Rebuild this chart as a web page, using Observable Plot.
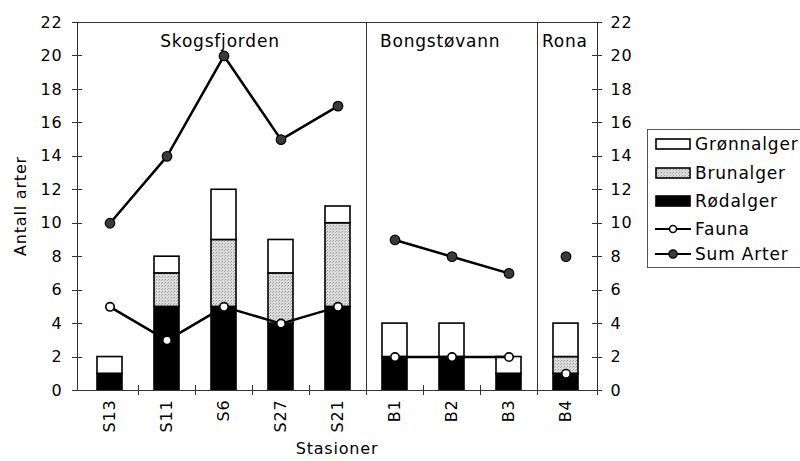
<!DOCTYPE html>
<html><head><meta charset="utf-8">
<script src="https://cdn.jsdelivr.net/npm/d3@7"></script>
<script src="https://cdn.jsdelivr.net/npm/@observablehq/plot@0.6"></script>
<style>
body{margin:0;background:#fff;font-family:"DejaVu Sans",sans-serif;}
#wrap{position:relative;width:800px;height:461px;overflow:hidden;}
#wrap svg text{letter-spacing:0.8px;}
#legend{position:absolute;left:647px;top:129px;width:170px;height:139px;border:1px solid #555;box-sizing:border-box;font-size:17px;letter-spacing:0.8px;color:#000;}
.row{position:absolute;left:0;height:20px;display:flex;align-items:center;}
.row svg{display:block;margin-left:7px;margin-right:4px;}
</style></head><body>
<svg width="0" height="0" style="position:absolute">
  <defs>
    <pattern id="stipple" width="3" height="3" patternUnits="userSpaceOnUse">
      <rect width="3" height="3" fill="#dcdcdc"/>
      <rect x="0" y="0" width="1" height="1" fill="#9a9a9a"/>
      <rect x="2" y="1" width="1" height="1" fill="#b0b0b0"/>
    </pattern>
  </defs>
</svg>
<div id="wrap"></div>
<script>
// ---- data ----
const stations   = ["S13","S11","S6","S27","S21","B1","B2","B3","B4"];
const areaOf     = ["Skogsfjorden","Skogsfjorden","Skogsfjorden","Skogsfjorden","Skogsfjorden","Bongstøvann","Bongstøvann","Bongstøvann","Rona"];
const rodalger   = [1,5,5,4,5,2,2,1,1];
const brunalger  = [0,2,4,3,5,0,0,0,1];
const gronnalger = [1,1,3,2,1,2,2,1,2];
const fauna      = [5,3,5,4,5,2,2,2,1];
const sumArter   = [10,14,20,15,17,9,8,7,8];
const yTicks     = [0,2,4,6,8,10,12,14,16,18,20,22];
const categories = ["Rødalger","Brunalger","Grønnalger"];
const catFills   = ["#000000","url(#stipple)","#ffffff"];
const areaNames  = ["Skogsfjorden","Bongstøvann","Rona"];
const areaLabelAt= ["S6","B1","B4"];
const separatorsBefore = ["B1","B4"];
const legendLabels = ["Grønnalger","Brunalger","Rødalger","Fauna","Sum Arter"];

// ---- tables ----
const seriesByCat = {"Rødalger": rodalger, "Brunalger": brunalger, "Grønnalger": gronnalger};
const barRows = [];
stations.forEach((s, i) => categories.forEach(c => {
  const v = seriesByCat[c][i];
  if (v > 0) barRows.push({station: s, category: c, value: v});
}));
const pointRows = stations.map((s, i) => ({station: s, area: areaOf[i], fauna: fauna[i], sum: sumArter[i]}));
const areaRows = areaNames.map((n, i) => ({name: n, station: areaLabelAt[i]}));

function decorations(index, scales, values, dims) {
  const x = scales.x, y = scales.y;
  const left = dims.marginLeft, right = dims.width - dims.marginRight;
  const y0 = y(0), yT = y(22);
  const step = x(stations[1]) - x(stations[0]);
  const bw = x.bandwidth();
  const gap = (step - bw) / 2;
  const bound = s => x(s) - gap;
  const g = d3.create("svg:g");
  const lines = g.append("g").attr("stroke", "#333").attr("stroke-width", 1).attr("fill", "none");
  const c = v => Math.round(v) + 0.5;
  lines.append("rect").attr("x", c(left)).attr("y", c(yT)).attr("width", Math.round(right - left)).attr("height", Math.round(y0 - yT));
  separatorsBefore.forEach(s => {
    lines.append("line").attr("x1", c(bound(s))).attr("x2", c(bound(s))).attr("y1", yT).attr("y2", y0 + 5);
  });
  stations.slice(1).forEach(s => {
    lines.append("line").attr("x1", c(bound(s))).attr("x2", c(bound(s))).attr("y1", y0 - 5).attr("y2", y0 + 5);
  });
  lines.append("line").attr("x1", c(right)).attr("x2", c(right)).attr("y1", y0 - 5).attr("y2", y0 + 5);
  yTicks.forEach(t => {
    lines.append("line").attr("x1", left - 5).attr("x2", left + 5).attr("y1", c(y(t))).attr("y2", c(y(t)));
    lines.append("line").attr("x1", right - 5).attr("x2", right + 5).attr("y1", c(y(t))).attr("y2", c(y(t)));
  });
  g.append("text").attr("transform", `translate(20,${(yT + y0) / 2}) rotate(-90)`)
    .attr("text-anchor", "middle").attr("dominant-baseline", "central").attr("fill", "#000")
    .text("Antall arter");
  g.append("text").attr("x", (left + right) / 2).attr("y", dims.height - 7)
    .attr("text-anchor", "middle").attr("fill", "#000").text("Stasioner");
  return g.node();
}

const plot = Plot.plot({
  width: 800, height: 461,
  marginLeft: 77, marginRight: 203, marginTop: 22, marginBottom: 71,
  style: {fontFamily: "DejaVu Sans", fontSize: "16px", color: "#000", background: "transparent", overflow: "visible"},
  x: {domain: stations, paddingInner: 0.57, paddingOuter: 0.285, tickSize: 0, tickPadding: 9, tickRotate: -90, label: null},
  y: {domain: [0, 22], ticks: yTicks, tickSize: 0, tickPadding: 15, label: null},
  color: {domain: categories, range: catFills},
  marks: [
    Plot.barY(barRows, {x: "station", y: "value", fill: "category", stroke: "#000", strokeWidth: 1.6}),
    decorations,
    Plot.line(pointRows, {x: "station", y: "sum", z: "area", stroke: "#000", strokeWidth: 2.5}),
    Plot.line(pointRows, {x: "station", y: "fauna", z: "area", stroke: "#000", strokeWidth: 2.5}),
    Plot.dot(pointRows, {x: "station", y: "sum", r: 4.8, fill: "#3a3a3a", stroke: "#000", strokeWidth: 1.2}),
    Plot.dot(pointRows, {x: "station", y: "fauna", r: 4.2, fill: "#fff", stroke: "#000", strokeWidth: 1.6}),
    Plot.text(yTicks, {y: d => d, text: d => String(d), frameAnchor: "right", textAnchor: "start", dx: 13, fill: "#000"}),
    Plot.text(areaRows.slice(0, 1), {x: "station", text: "name", frameAnchor: "top", dy: 12, dx: -4, fontSize: 17, fill: "#000"}),
    Plot.text(areaRows.slice(1, 2), {x: "station", text: "name", frameAnchor: "top", dy: 12, dx: -15, textAnchor: "start", fontSize: 17, fill: "#000"}),
    Plot.text(areaRows.slice(2), {x: "station", text: "name", frameAnchor: "top", dy: 12, dx: -24, textAnchor: "start", fontSize: 17, fill: "#000"})
  ]
});
document.getElementById("wrap").appendChild(plot);

// ---- legend ----
const legend = document.createElement("div");
legend.id = "legend";
const rowTops = [4, 33, 61, 89, 114];
legendLabels.forEach((lab, i) => {
  const row = document.createElement("div");
  row.className = "row";
  row.style.top = rowTops[i] + "px";
  let sw;
  if (i < 3) {
    const fill = catFills[categories.indexOf(lab)];
    sw = `<svg width="36" height="14"><rect x="1" y="2" width="34" height="10" fill="${fill}" stroke="#000" stroke-width="1.6"/></svg>`;
  } else if (lab === "Fauna") {
    sw = `<svg width="36" height="14"><line x1="0" x2="36" y1="7" y2="7" stroke="#000" stroke-width="2"/><circle cx="18" cy="7" r="3.5" fill="#fff" stroke="#000" stroke-width="1.5"/></svg>`;
  } else {
    sw = `<svg width="36" height="14"><line x1="0" x2="36" y1="7" y2="7" stroke="#000" stroke-width="2"/><circle cx="18" cy="7" r="4.2" fill="#3a3a3a" stroke="#000" stroke-width="1.2"/></svg>`;
  }
  row.innerHTML = sw + `<span>${lab}</span>`;
  legend.appendChild(row);
});
document.getElementById("wrap").appendChild(legend);
</script>
</body></html>
